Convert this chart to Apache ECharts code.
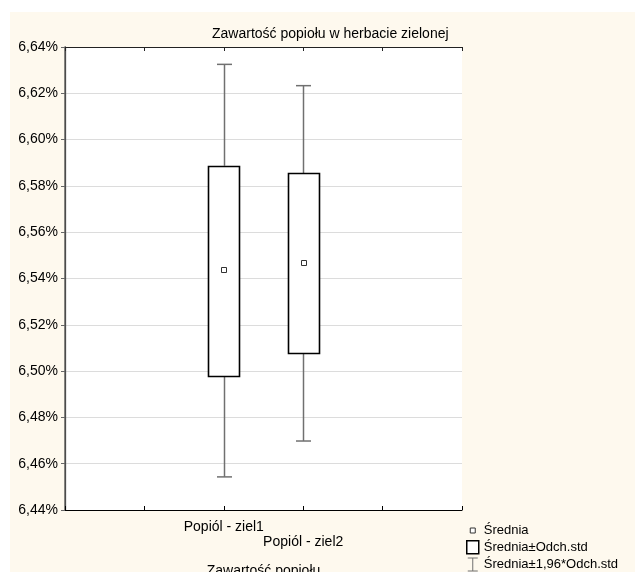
<!DOCTYPE html>
<html>
<head>
<meta charset="utf-8">
<script src="https://cdn.jsdelivr.net/npm/echarts@6/dist/echarts.min.js"></script>
<style>
  html, body { margin: 0; padding: 0; background: #ffffff; }
  #bg { position: absolute; left: 10px; top: 12px; width: 625px; height: 560px; background: #fef9ee; }
  #chart { position: absolute; left: 0; top: 0; width: 635px; height: 572px; }
</style>
</head>
<body>
<div id="bg"></div>
<div id="chart"></div>
<script>
// ---- data ----
const titleText = 'Zawartość popiołu w herbacie zielonej';
const axisTitle = 'Zawartość popiołu';
const slots = ['', '', 'Popiól - ziel1', 'Popiól - ziel2', '', ''];   // tick positions on the x axis
const categories = ['Popiól - ziel1', 'Popiól - ziel2'];
const means  = [6.5440, 6.5470];
const sdLow  = [6.4979, 6.5077];
const sdHigh = [6.5887, 6.5854];
const ciLow  = [6.4543, 6.4698];
const ciHigh = [6.6325, 6.6233];
const yTicks = { min: 6.44, max: 6.64, step: 0.02 };
const legendNames = ['Średnia', 'Średnia±Odch.std', 'Średnia±1,96*Odch.std'];

const FONT = "Arial, 'Liberation Sans', sans-serif";

const rows = categories.map((c, i) => [slots.indexOf(c), means[i], sdLow[i], sdHigh[i], ciLow[i], ciHigh[i]]);

const chart = echarts.init(document.getElementById('chart'), null, { renderer: 'canvas' });

function boxItem(params, api) {
  const x = api.value(0);
  const top = api.coord([x, api.value(3)]);
  const bot = api.coord([x, api.value(2)]);
  const w = 31;
  return {
    type: 'rect',
    shape: { x: Math.round(top[0] - w / 2) + 0.5, y: Math.round(top[1]) + 0.5, width: w, height: Math.round(bot[1]) - Math.round(top[1]) },
    style: { fill: '#ffffff', stroke: '#000000', lineWidth: 1.6 }
  };
}
function whiskerItem(params, api) {
  const x = api.value(0);
  const pHi = api.coord([x, api.value(5)]);
  const pBoxHi = api.coord([x, api.value(3)]);
  const pLo = api.coord([x, api.value(4)]);
  const pBoxLo = api.coord([x, api.value(2)]);
  const cx = Math.round(pHi[0]) + 0.5;
  const cap = 7.5;
  const st = { stroke: '#707070', lineWidth: 1.5 };
  return {
    type: 'group',
    children: [
      { type: 'line', shape: { x1: cx, y1: pHi[1], x2: cx, y2: pBoxHi[1] }, style: st },
      { type: 'line', shape: { x1: cx, y1: pLo[1], x2: cx, y2: pBoxLo[1] }, style: st },
      { type: 'line', shape: { x1: cx - cap, y1: pHi[1], x2: cx + cap, y2: pHi[1] }, style: st },
      { type: 'line', shape: { x1: cx - cap, y1: pLo[1], x2: cx + cap, y2: pLo[1] }, style: st }
    ]
  };
}
function meanItem(params, api) {
  const x = api.value(0);
  const p = api.coord([x, api.value(1)]);
  const s = 5;
  return {
    type: 'rect',
    shape: { x: Math.round(p[0] - s / 2) + 0.5, y: Math.round(p[1] - s / 2) + 0.5, width: s, height: s },
    style: { fill: '#ffffff', stroke: '#333333', lineWidth: 1 }
  };
}

const option = {
  animation: false,
  backgroundColor: 'transparent',
  textStyle: { fontFamily: FONT },
  title: {
    text: titleText,
    left: 207,
    top: 22,
    textStyle: { fontFamily: FONT, fontSize: 14, fontWeight: 'normal', color: '#000' }
  },
  grid: {
    left: 65, right: 173, top: 47, bottom: 62,
    outerBoundsMode: 'none',
    containLabel: false,
    show: true, backgroundColor: '#ffffff', borderWidth: 0
  },
  legend: {
    orient: 'vertical',
    left: 466,
    top: 523,
    height: 49,
    padding: 0,
    itemWidth: 12,
    itemHeight: 13,
    itemGap: 3,
    selectedMode: false,
    textStyle: { fontFamily: FONT, fontSize: 13, color: '#000' },
    data: [
      { name: legendNames[0], icon: 'path://M0,0M12,13M3.5,4.5h5v5h-5z',
        itemStyle: { color: '#fff', borderColor: '#333', borderWidth: 1 } },
      { name: legendNames[1], icon: 'path://M0,0h12v13h-12z',
        itemStyle: { color: '#fff', borderColor: '#000', borderWidth: 1.5 } },
      { name: legendNames[2], icon: 'path://M1,0h10M6,0v13M1,13h10',
        itemStyle: { color: 'transparent', borderColor: '#707070', borderWidth: 1 } }
    ]
  },
  xAxis: [
    {
      type: 'value', min: 0, max: slots.length - 1, interval: 1, position: 'bottom',
      name: axisTitle, nameLocation: 'middle', nameGap: 54,
      nameTextStyle: { fontFamily: FONT, fontSize: 14, color: '#000' },
      axisLine: { show: true, lineStyle: { color: '#000', width: 1.2 } },
      axisTick: { show: true, inside: true, length: 4, lineStyle: { color: '#000' } },
      splitLine: { show: false },
      axisLabel: {
        show: true, margin: 10, fontFamily: FONT, fontSize: 14, color: '#000', lineHeight: 15,
        formatter: function (v) {
          const name = slots[Math.round(v)] || '';
          if (!name) return '';
          return (categories.indexOf(name) % 2 === 1) ? '\n' + name : name;
        }
      }
    },
    {
      type: 'value', min: 0, max: slots.length - 1, interval: 1, position: 'top',
      axisLine: { show: true, lineStyle: { color: '#222', width: 1.2 } },
      axisTick: { show: true, inside: true, length: 4, lineStyle: { color: '#222' } },
      splitLine: { show: false },
      axisLabel: { show: false }
    }
  ],
  yAxis: [
    {
      type: 'value', min: yTicks.min, max: yTicks.max, interval: yTicks.step, position: 'left',
      axisLine: { show: true, lineStyle: { color: '#000', width: 1.2 } },
      axisTick: { show: false },
      splitLine: { show: true, lineStyle: { color: '#dcdcdc', width: 1 } },
      axisLabel: {
        margin: 7, fontFamily: FONT, fontSize: 14, color: '#000',
        formatter: v => v.toFixed(2).replace('.', ',') + '%'
      }
    },
    {
      type: 'value', min: yTicks.min, max: yTicks.max, interval: yTicks.step, position: 'right',
      axisLine: { show: true, lineStyle: { color: '#666', width: 1.5 } },
      axisTick: { show: true, inside: true, length: 4, lineStyle: { color: '#666' } },
      splitLine: { show: false },
      axisLabel: { show: false }
    }
  ],
  series: [
    { name: legendNames[2], type: 'custom', renderItem: whiskerItem, data: rows, z: 3,
      encode: { x: 0, y: [4, 5] }, itemStyle: { color: '#707070' } },
    { name: legendNames[1], type: 'custom', renderItem: boxItem, data: rows, z: 4,
      encode: { x: 0, y: [2, 3] }, itemStyle: { color: '#000' } },
    { name: legendNames[0], type: 'custom', renderItem: meanItem, data: rows, z: 5,
      encode: { x: 0, y: 1 }, itemStyle: { color: '#333' } }
  ]
};
chart.setOption(option);
</script>
</body>
</html>
